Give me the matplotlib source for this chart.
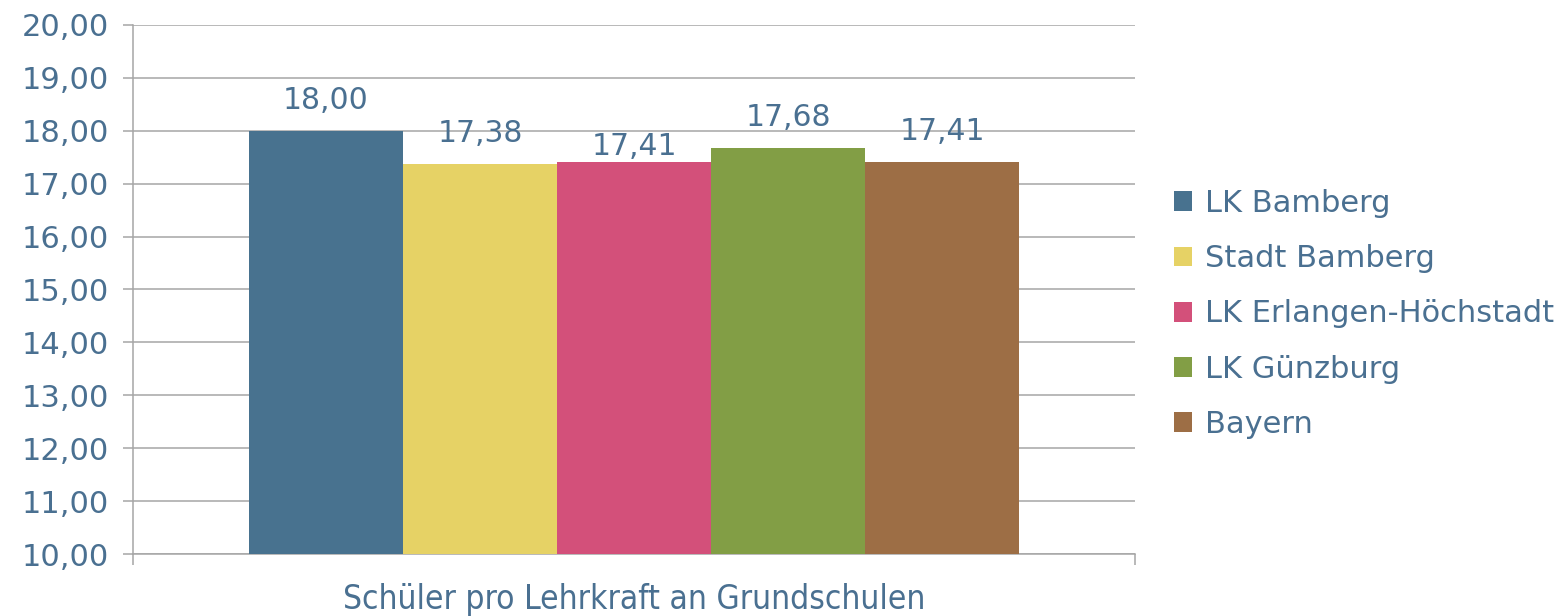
import matplotlib
matplotlib.use("Agg")
import matplotlib.pyplot as plt
from matplotlib.patches import Patch

category = "Schüler pro Lehrkraft an Grundschulen"
series = ["LK Bamberg", "Stadt Bamberg", "LK Erlangen-Höchstadt", "LK Günzburg", "Bayern"]
values = [18.00, 17.38, 17.41, 17.68, 17.41]
colors = ["#48728f", "#e6d265", "#d3507a", "#829e45", "#9d6e45"]
yticks = [10, 11, 12, 13, 14, 15, 16, 17, 18, 19, 20]

text_color = "#4a7091"
grid_color = "#a6a6a6"

plt.rcParams['font.family'] = ['DejaVu Sans']

fig = plt.figure(figsize=(15.62, 6.16), dpi=100)
ax = fig.add_axes([133/1562, 62/616, (1135-133)/1562, (554-25)/616])

width = 0.1537
label_offsets = [22, 22, 11, 22, 22]
for i, (name, v, c) in enumerate(zip(series, values, colors)):
    x = (i - 2) * width
    ax.bar(x, v - 10, bottom=10, width=width, color=c, zorder=3, label=name)
    ax.annotate(f"{v:.2f}".replace(".", ","), (x, v), xytext=(0, label_offsets[i]),
                textcoords="offset points", ha="center", va="center",
                fontsize=21.5, color=text_color)

ax.set_xlim(-0.5, 0.5)
ax.set_ylim(10, 20)
ax.set_yticks(yticks)
ax.set_yticklabels([f"{t:.2f}".replace(".", ",") for t in yticks])
ax.yaxis.grid(True, color=grid_color, linewidth=1.1, zorder=0)
ax.tick_params(axis="y", length=7.5, width=1.1, color=grid_color, labelsize=22,
               labelcolor=text_color, pad=10)

ax.set_xticks([0])
ax.set_xticklabels([category])
ax.set_xticks([-0.5, 0.5], minor=True)
ax.tick_params(axis="x", which="major", length=0, pad=21, labelsize=24, labelcolor=text_color)
ax.tick_params(axis="x", which="minor", length=8, width=1.1, color=grid_color)
for lab in ax.get_xticklabels():
    lab.set_fontstretch("condensed")

for s in ["top", "right"]:
    ax.spines[s].set_visible(False)
ax.spines["left"].set_color(grid_color)
ax.spines["left"].set_linewidth(1.1)
ax.spines["bottom"].set_color(grid_color)
ax.spines["bottom"].set_linewidth(1.1)

handles = [Patch(facecolor=c, label=n) for n, c in zip(series, colors)]
leg = fig.legend(handles=handles, loc="center left", bbox_to_anchor=(1146/1562, 302/616),
                 frameon=False, fontsize=22, labelcolor=text_color, handlelength=0.62,
                 handleheight=0.62, handletextpad=0.4, labelspacing=0.86)

fig.savefig("out.png", dpi=100)
